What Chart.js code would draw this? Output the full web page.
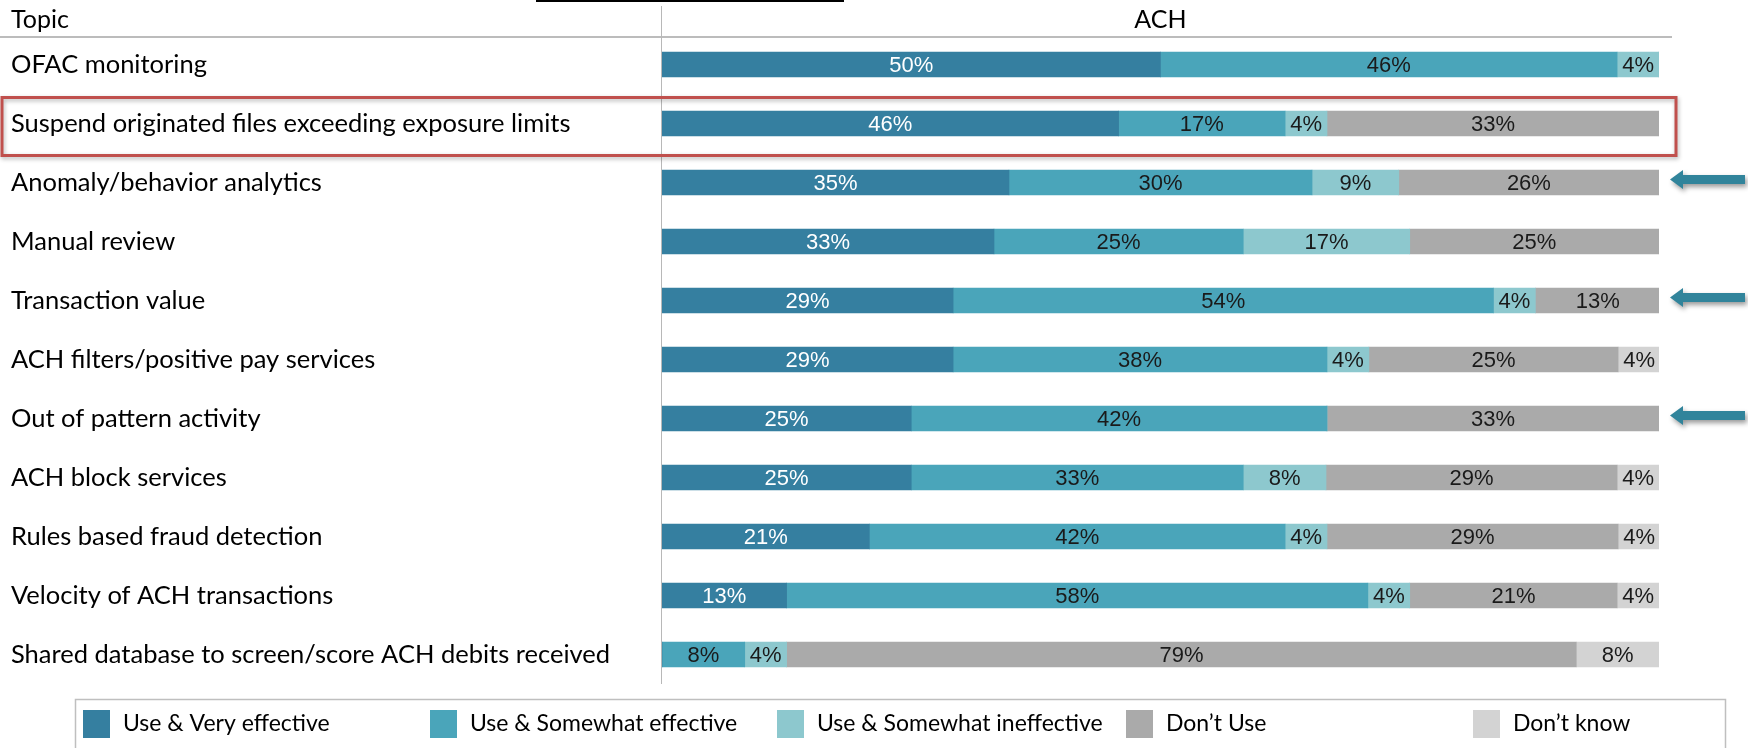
<!DOCTYPE html>
<html>
<head>
<meta charset="utf-8">
<script src="https://cdn.jsdelivr.net/npm/chart.js@4"></script>
<style>
  html, body { margin: 0; padding: 0; background: #fff; }
  #wrap { width: 1748px; height: 748px; }
</style>
</head>
<body>
<div id="wrap"><canvas id="bar-chart"></canvas></div>
<script>
const topics = [
    'OFAC monitoring',
    'Suspend originated files exceeding exposure limits',
    'Anomaly/behavior analytics',
    'Manual review',
    'Transaction value',
    'ACH filters/positive pay services',
    'Out of pattern activity',
    'ACH block services',
    'Rules based fraud detection',
    'Velocity of ACH transactions',
    'Shared database to screen/score ACH debits received'
]

// share of respondents (%)
const veryEffective       = [50,   45.8, 34.8, 33.3, 29.2, 29.2, 25,   25,   20.8, 12.5, 0]
const somewhatEffective   = [45.8, 16.7, 30.4, 25,   54.2, 37.5, 41.7, 33.3, 41.7, 58.3, 8.3]
const somewhatIneffective = [4.2,  4.2,  8.7,  16.7, 4.2,  4.2,  0,    8.3,  4.2,  4.2,  4.2]
const dontUse             = [0,    33.3, 26.1, 25,   12.5, 25,   33.3, 29.2, 29.2, 20.8, 79.2]
const dontKnow            = [0,    0,    0,    0,    0,    4.2,  0,    4.2,  4.2,  4.2,  8.3]

const seriesNames = ['Use & Very effective', 'Use & Somewhat effective', 'Use & Somewhat ineffective', 'Don\u2019t Use', 'Don\u2019t know']
const seriesColors = ['#357fa0', '#4aa5ba', '#8dc8ce', '#aaaaaa', '#d3d3d3']
const seriesData = [veryEffective, somewhatEffective, somewhatIneffective, dontUse, dontKnow]

const highlightedRow = 1
const arrowRows = [2, 4, 6]

const labelFont = 'Lato, "Open Sans", sans-serif'

const decorations = {
    id: 'decorations',
    beforeDraw(chart) {
        const ctx = chart.ctx
        const a = chart.chartArea
        ctx.save()
        // underline of the cropped title above
        ctx.fillStyle = '#000'
        ctx.fillRect(536, 0, 308, 2)

        ctx.font = '25px ' + labelFont
        ctx.textBaseline = 'middle'
        ctx.textAlign = 'left'
        ctx.fillText('Topic', 11, 20)
        ctx.textAlign = 'center'
        ctx.fillText('ACH', (a.left + a.right) / 2, 20)

        ctx.strokeStyle = '#a6a6a6'
        ctx.lineWidth = 1.5
        ctx.beginPath()
        ctx.moveTo(0, 37)
        ctx.lineTo(1672, 37)
        ctx.stroke()
        ctx.lineWidth = 1
        ctx.strokeStyle = '#b8b8b8'
        ctx.beginPath()
        ctx.moveTo(a.left - 0.5, 6)
        ctx.lineTo(a.left - 0.5, a.bottom)
        ctx.stroke()
        ctx.restore()
    },
    afterDatasetsDraw(chart) {
        const ctx = chart.ctx
        ctx.save()
        ctx.font = '22px "Liberation Sans", Arial, sans-serif'
        ctx.textAlign = 'center'
        ctx.textBaseline = 'middle'
        chart.data.datasets.forEach((ds, i) => {
            const meta = chart.getDatasetMeta(i)
            meta.data.forEach((bar, j) => {
                const v = ds.data[j]
                if (!v) return
                const c = bar.getCenterPoint()
                ctx.fillStyle = i === 0 ? '#ffffff' : '#1a1a1a'
                ctx.fillText(Math.round(v) + '%', c.x, c.y + 1)
            })
        })
        ctx.restore()
    },
    afterDraw(chart) {
        const ctx = chart.ctx
        const y = chart.scales.y
        ctx.save()

        // red highlight box
        const yc = y.getPixelForValue(highlightedRow)
        ctx.shadowColor = 'rgba(0,0,0,0.3)'
        ctx.shadowBlur = 4
        ctx.shadowOffsetX = 1
        ctx.shadowOffsetY = 2
        ctx.strokeStyle = '#c0504d'
        ctx.lineWidth = 3
        ctx.strokeRect(2, yc - 26, 1674, 58)

        // arrows
        ctx.shadowColor = 'rgba(0,0,0,0.4)'
        ctx.shadowBlur = 5
        ctx.shadowOffsetX = 2
        ctx.shadowOffsetY = 3
        ctx.fillStyle = '#31849b'
        arrowRows.forEach(r => {
            const ya = y.getPixelForValue(r) - 3
            ctx.beginPath()
            ctx.moveTo(1670, ya)
            ctx.lineTo(1683, ya - 9.5)
            ctx.lineTo(1683, ya - 4.5)
            ctx.lineTo(1745, ya - 4.5)
            ctx.lineTo(1745, ya + 4.5)
            ctx.lineTo(1683, ya + 4.5)
            ctx.lineTo(1683, ya + 9.5)
            ctx.closePath()
            ctx.fill()
        })
        ctx.shadowColor = 'transparent'

        // legend
        ctx.strokeStyle = '#bfbfbf'
        ctx.lineWidth = 1.5
        ctx.strokeRect(75.5, 699.5, 1650, 70)
        const legendX = [83, 430, 777, 1126, 1473]
        ctx.font = '23px ' + labelFont
        ctx.textAlign = 'left'
        ctx.textBaseline = 'middle'
        chart.data.datasets.forEach((ds, i) => {
            ctx.fillStyle = ds.backgroundColor
            ctx.fillRect(legendX[i], 710, 27, 28)
            ctx.fillStyle = '#000'
            ctx.fillText(ds.label, legendX[i] + 40, 724)
        })
        ctx.restore()
    }
}

new Chart(document.getElementById('bar-chart'), {
    type: 'bar',
    data: {
        labels: topics,
        datasets: seriesData.map((d, i) => ({
            label: seriesNames[i],
            data: d,
            backgroundColor: seriesColors[i],
            borderWidth: 0,
            barThickness: 25
        }))
    },
    options: {
        indexAxis: 'y',
        responsive: true,
        maintainAspectRatio: false,
        animation: false,
        layout: { padding: { left: 11, right: 89, top: 35, bottom: 64 } },
        plugins: {
            legend: { display: false },
            tooltip: { enabled: false }
        },
        scales: {
            x: { stacked: true, display: false, min: 0, max: 100 },
            y: {
                stacked: true,
                grid: { display: false },
                border: { display: false },
                ticks: {
                    crossAlign: 'far',
                    padding: 0,
                    color: '#000',
                    font: { family: labelFont, size: 25.5 }
                },
                afterFit(scale) { scale.width = 651 }
            }
        }
    },
    plugins: [decorations]
});
</script>
</body>
</html>
